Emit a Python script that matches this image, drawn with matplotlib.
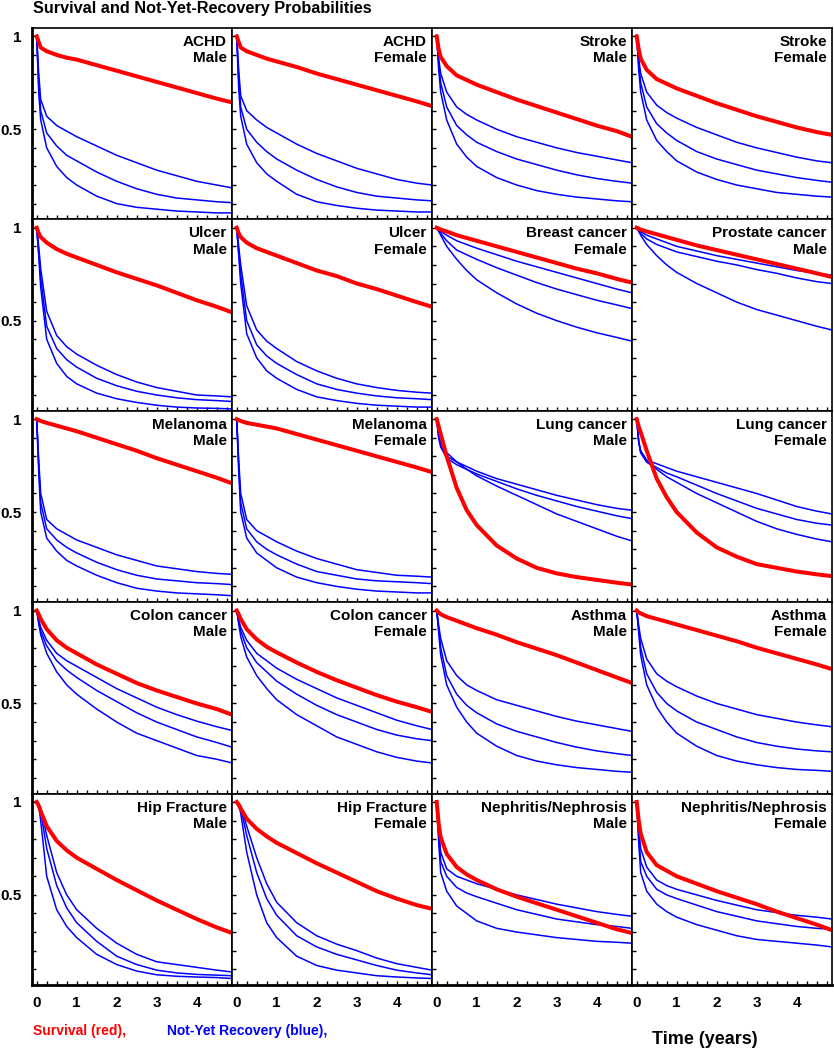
import numpy as np
import matplotlib.pyplot as plt

plt.rcParams['font.family'] = ['Liberation Sans', 'DejaVu Sans']

t = [0, 0.05, 0.1, 0.25, 0.5, 0.75, 1, 1.5, 2, 2.5, 3, 3.5, 4, 4.5, 4.88]

diseases = ["ACHD", "ACHD", "Stroke", "Stroke",
            "Ulcer", "Ulcer", "Breast cancer", "Prostate cancer",
            "Melanoma", "Melanoma", "Lung cancer", "Lung cancer",
            "Colon cancer", "Colon cancer", "Asthma", "Asthma",
            "Hip Fracture", "Hip Fracture", "Nephritis/Nephrosis", "Nephritis/Nephrosis"]
sexes = ["Male", "Female", "Male", "Female",
         "Male", "Female", "Female", "Male",
         "Male", "Female", "Male", "Female",
         "Male", "Female", "Male", "Female",
         "Male", "Female", "Male", "Female"]

# survival (red)
red = [
    [1, 0.97, 0.94, 0.92, 0.9, 0.885, 0.875, 0.845, 0.815, 0.785, 0.755, 0.725, 0.695, 0.665, 0.645],
    [1, 0.97, 0.94, 0.92, 0.9, 0.88, 0.865, 0.835, 0.8, 0.77, 0.74, 0.71, 0.68, 0.65, 0.625],
    [1, 0.93, 0.89, 0.84, 0.79, 0.765, 0.74, 0.7, 0.66, 0.625, 0.59, 0.555, 0.52, 0.49, 0.46],
    [1, 0.93, 0.88, 0.82, 0.77, 0.745, 0.72, 0.68, 0.64, 0.605, 0.57, 0.54, 0.51, 0.485, 0.47],
    [1, 0.97, 0.95, 0.92, 0.885, 0.86, 0.84, 0.8, 0.76, 0.725, 0.69, 0.65, 0.61, 0.575, 0.545],
    [1, 0.97, 0.95, 0.92, 0.89, 0.87, 0.85, 0.81, 0.77, 0.74, 0.7, 0.67, 0.635, 0.6, 0.575],
    [1, 0.995, 0.99, 0.98, 0.96, 0.945, 0.93, 0.9, 0.87, 0.84, 0.81, 0.78, 0.755, 0.725, 0.705],
    [1, 0.995, 0.99, 0.98, 0.965, 0.95, 0.935, 0.905, 0.88, 0.855, 0.83, 0.805, 0.78, 0.755, 0.735],
    [1, 0.995, 0.99, 0.98, 0.965, 0.95, 0.935, 0.9, 0.865, 0.83, 0.79, 0.755, 0.72, 0.685, 0.655],
    [1, 0.995, 0.99, 0.98, 0.97, 0.96, 0.95, 0.92, 0.89, 0.86, 0.83, 0.8, 0.77, 0.74, 0.715],
    [1, 0.96, 0.92, 0.8, 0.63, 0.51, 0.43, 0.32, 0.25, 0.2, 0.17, 0.15, 0.135, 0.12, 0.11],
    [1, 0.96, 0.93, 0.83, 0.68, 0.58, 0.5, 0.39, 0.31, 0.26, 0.22, 0.2, 0.18, 0.165, 0.155],
    [1, 0.98, 0.955, 0.9, 0.84, 0.8, 0.77, 0.71, 0.66, 0.61, 0.57, 0.535, 0.5, 0.47, 0.44],
    [1, 0.98, 0.955, 0.9, 0.845, 0.805, 0.775, 0.72, 0.67, 0.625, 0.585, 0.545, 0.51, 0.48, 0.455],
    [1, 0.99, 0.98, 0.965, 0.945, 0.925, 0.905, 0.87, 0.83, 0.795, 0.76, 0.72, 0.68, 0.64, 0.61],
    [1, 0.99, 0.985, 0.97, 0.955, 0.94, 0.925, 0.895, 0.865, 0.835, 0.8, 0.77, 0.74, 0.71, 0.685],
    [1, 0.98, 0.95, 0.87, 0.79, 0.74, 0.7, 0.64, 0.58, 0.525, 0.47, 0.42, 0.37, 0.325, 0.295],
    [1, 0.985, 0.965, 0.91, 0.855, 0.815, 0.78, 0.725, 0.67, 0.62, 0.57, 0.52, 0.48, 0.445, 0.425],
    [1, 0.88, 0.81, 0.72, 0.65, 0.61, 0.58, 0.53, 0.49, 0.455, 0.42, 0.385, 0.35, 0.315, 0.295],
    [1, 0.9, 0.83, 0.73, 0.66, 0.63, 0.6, 0.56, 0.52, 0.485, 0.45, 0.41, 0.375, 0.34, 0.31],
]

# not-yet-recovery (blue), three curves per panel
blue_hi = [
    [1, 0.8, 0.66, 0.57, 0.52, 0.49, 0.46, 0.41, 0.36, 0.32, 0.28, 0.25, 0.22, 0.2, 0.185],
    [1, 0.82, 0.68, 0.6, 0.55, 0.51, 0.48, 0.42, 0.37, 0.33, 0.29, 0.26, 0.23, 0.21, 0.2],
    [1, 0.88, 0.8, 0.7, 0.62, 0.58, 0.55, 0.5, 0.46, 0.43, 0.4, 0.375, 0.355, 0.335, 0.32],
    [1, 0.88, 0.8, 0.7, 0.63, 0.59, 0.56, 0.51, 0.47, 0.43, 0.4, 0.375, 0.35, 0.33, 0.32],
    [1, 0.9, 0.78, 0.55, 0.42, 0.36, 0.32, 0.26, 0.21, 0.17, 0.14, 0.12, 0.1, 0.095, 0.09],
    [1, 0.9, 0.8, 0.58, 0.45, 0.39, 0.35, 0.28, 0.23, 0.19, 0.16, 0.14, 0.125, 0.115, 0.11],
    [1, 0.99, 0.98, 0.96, 0.93, 0.91, 0.89, 0.855, 0.82, 0.79, 0.76, 0.73, 0.7, 0.67, 0.65],
    [1, 0.99, 0.98, 0.96, 0.94, 0.92, 0.9, 0.875, 0.85, 0.83, 0.81, 0.79, 0.77, 0.755, 0.745],
    [1, 0.78, 0.6, 0.46, 0.41, 0.38, 0.35, 0.31, 0.27, 0.24, 0.21, 0.195, 0.18, 0.17, 0.165],
    [1, 0.78, 0.6, 0.46, 0.4, 0.37, 0.34, 0.29, 0.25, 0.22, 0.19, 0.175, 0.16, 0.155, 0.15],
    [1, 0.9, 0.86, 0.8, 0.77, 0.745, 0.72, 0.68, 0.65, 0.62, 0.59, 0.565, 0.54, 0.52, 0.51],
    [1, 0.88, 0.83, 0.78, 0.76, 0.74, 0.72, 0.69, 0.66, 0.63, 0.6, 0.565, 0.53, 0.505, 0.49],
    [1, 0.95, 0.91, 0.84, 0.77, 0.73, 0.7, 0.64, 0.58, 0.53, 0.48, 0.44, 0.405, 0.375, 0.355],
    [1, 0.95, 0.91, 0.84, 0.77, 0.73, 0.69, 0.63, 0.58, 0.53, 0.49, 0.45, 0.41, 0.38, 0.36],
    [1, 0.92, 0.85, 0.73, 0.65, 0.6, 0.57, 0.52, 0.49, 0.46, 0.43, 0.405, 0.385, 0.365, 0.35],
    [1, 0.92, 0.85, 0.74, 0.66, 0.62, 0.59, 0.54, 0.5, 0.47, 0.44, 0.42, 0.4, 0.385, 0.375],
    [1, 0.99, 0.97, 0.82, 0.62, 0.5, 0.42, 0.32, 0.24, 0.18, 0.14, 0.125, 0.11, 0.095, 0.085],
    [1, 0.99, 0.98, 0.87, 0.7, 0.56, 0.46, 0.35, 0.28, 0.235, 0.2, 0.16, 0.13, 0.11, 0.095],
    [1, 0.85, 0.73, 0.64, 0.6, 0.58, 0.56, 0.53, 0.5, 0.475, 0.45, 0.43, 0.41, 0.395, 0.385],
    [1, 0.85, 0.75, 0.65, 0.58, 0.55, 0.53, 0.5, 0.47, 0.445, 0.42, 0.405, 0.39, 0.38, 0.37],
]
blue_mid = [
    [1, 0.75, 0.6, 0.48, 0.41, 0.36, 0.33, 0.27, 0.22, 0.18, 0.15, 0.13, 0.12, 0.11, 0.105],
    [1, 0.77, 0.62, 0.5, 0.43, 0.38, 0.34, 0.28, 0.23, 0.19, 0.16, 0.14, 0.13, 0.12, 0.115],
    [1, 0.85, 0.75, 0.62, 0.52, 0.47, 0.43, 0.38, 0.34, 0.31, 0.28, 0.255, 0.235, 0.22, 0.21],
    [1, 0.85, 0.75, 0.62, 0.53, 0.48, 0.44, 0.38, 0.34, 0.31, 0.28, 0.26, 0.24, 0.225, 0.215],
    [1, 0.87, 0.73, 0.47, 0.35, 0.29, 0.25, 0.19, 0.15, 0.12, 0.1, 0.085, 0.075, 0.07, 0.065],
    [1, 0.87, 0.75, 0.5, 0.37, 0.31, 0.27, 0.21, 0.16, 0.13, 0.11, 0.095, 0.085, 0.08, 0.075],
    [1, 0.985, 0.97, 0.93, 0.88, 0.855, 0.83, 0.785, 0.745, 0.705, 0.67, 0.64, 0.61, 0.585, 0.565],
    [1, 0.985, 0.97, 0.94, 0.91, 0.89, 0.87, 0.845, 0.82, 0.8, 0.775, 0.755, 0.73, 0.71, 0.7],
    [1, 0.75, 0.55, 0.41, 0.35, 0.31, 0.28, 0.23, 0.19, 0.16, 0.14, 0.13, 0.12, 0.115, 0.11],
    [1, 0.75, 0.55, 0.41, 0.34, 0.3, 0.27, 0.22, 0.18, 0.16, 0.14, 0.13, 0.125, 0.12, 0.115],
    [1, 0.9, 0.85, 0.79, 0.755, 0.73, 0.705, 0.665, 0.625, 0.59, 0.56, 0.53, 0.505, 0.48, 0.465],
    [1, 0.88, 0.82, 0.77, 0.74, 0.71, 0.69, 0.645, 0.6, 0.56, 0.52, 0.49, 0.46, 0.44, 0.43],
    [1, 0.94, 0.89, 0.81, 0.73, 0.68, 0.64, 0.57, 0.51, 0.45, 0.4, 0.36, 0.32, 0.29, 0.265],
    [1, 0.94, 0.89, 0.8, 0.72, 0.67, 0.62, 0.55, 0.49, 0.44, 0.4, 0.36, 0.33, 0.31, 0.3],
    [1, 0.9, 0.8, 0.65, 0.55, 0.49, 0.45, 0.39, 0.35, 0.32, 0.29, 0.265, 0.245, 0.23, 0.22],
    [1, 0.9, 0.8, 0.66, 0.56, 0.5, 0.46, 0.4, 0.36, 0.32, 0.29, 0.27, 0.255, 0.245, 0.24],
    [1, 0.99, 0.95, 0.75, 0.55, 0.43, 0.35, 0.25, 0.17, 0.125, 0.095, 0.08, 0.072, 0.068, 0.065],
    [1, 0.99, 0.97, 0.82, 0.62, 0.48, 0.39, 0.28, 0.22, 0.18, 0.15, 0.12, 0.095, 0.08, 0.07],
    [1, 0.82, 0.68, 0.6, 0.54, 0.51, 0.49, 0.455, 0.42, 0.395, 0.37, 0.355, 0.34, 0.33, 0.32],
    [1, 0.82, 0.68, 0.6, 0.53, 0.5, 0.48, 0.445, 0.41, 0.385, 0.36, 0.345, 0.33, 0.32, 0.315],
]
blue_lo = [
    [1, 0.7, 0.55, 0.4, 0.3, 0.24, 0.2, 0.14, 0.1, 0.08, 0.07, 0.06, 0.055, 0.05, 0.05],
    [1, 0.72, 0.57, 0.42, 0.32, 0.26, 0.22, 0.15, 0.11, 0.09, 0.075, 0.065, 0.06, 0.055, 0.055],
    [1, 0.82, 0.7, 0.55, 0.42, 0.35, 0.3, 0.24, 0.2, 0.17, 0.15, 0.135, 0.125, 0.115, 0.11],
    [1, 0.82, 0.7, 0.55, 0.44, 0.38, 0.33, 0.27, 0.23, 0.2, 0.18, 0.16, 0.15, 0.14, 0.135],
    [1, 0.85, 0.68, 0.4, 0.27, 0.2, 0.16, 0.11, 0.08, 0.06, 0.045, 0.035, 0.03, 0.028, 0.025],
    [1, 0.85, 0.7, 0.43, 0.3, 0.23, 0.19, 0.13, 0.09, 0.07, 0.055, 0.045, 0.04, 0.035, 0.035],
    [1, 0.98, 0.96, 0.9, 0.83, 0.77, 0.72, 0.65, 0.59, 0.54, 0.5, 0.465, 0.435, 0.41, 0.39],
    [1, 0.98, 0.96, 0.91, 0.85, 0.8, 0.76, 0.7, 0.65, 0.6, 0.56, 0.53, 0.5, 0.47, 0.45],
    [1, 0.72, 0.5, 0.36, 0.29, 0.24, 0.21, 0.16, 0.12, 0.09, 0.075, 0.065, 0.06, 0.055, 0.05],
    [1, 0.72, 0.5, 0.36, 0.28, 0.24, 0.2, 0.15, 0.12, 0.1, 0.085, 0.075, 0.07, 0.065, 0.065],
    [1, 0.92, 0.88, 0.82, 0.77, 0.73, 0.695, 0.64, 0.59, 0.54, 0.49, 0.45, 0.41, 0.37, 0.345],
    [1, 0.88, 0.82, 0.77, 0.73, 0.69, 0.66, 0.6, 0.55, 0.5, 0.45, 0.41, 0.38, 0.355, 0.34],
    [1, 0.93, 0.87, 0.77, 0.67, 0.6, 0.55, 0.47, 0.4, 0.34, 0.3, 0.26, 0.22, 0.2, 0.18],
    [1, 0.93, 0.86, 0.75, 0.65, 0.58, 0.52, 0.44, 0.38, 0.32, 0.28, 0.24, 0.21, 0.19, 0.18],
    [1, 0.88, 0.76, 0.6, 0.48, 0.4, 0.34, 0.27, 0.22, 0.19, 0.17, 0.155, 0.145, 0.135, 0.13],
    [1, 0.88, 0.76, 0.6, 0.48, 0.4, 0.34, 0.27, 0.22, 0.19, 0.17, 0.155, 0.145, 0.14, 0.135],
    [1, 0.98, 0.9, 0.6, 0.42, 0.33, 0.27, 0.18, 0.125, 0.09, 0.07, 0.062, 0.058, 0.055, 0.05],
    [1, 0.98, 0.94, 0.73, 0.5, 0.35, 0.27, 0.17, 0.12, 0.095, 0.08, 0.065, 0.058, 0.053, 0.05],
    [1, 0.78, 0.62, 0.52, 0.44, 0.4, 0.36, 0.32, 0.3, 0.285, 0.27, 0.26, 0.25, 0.245, 0.24],
    [1, 0.78, 0.62, 0.52, 0.45, 0.41, 0.38, 0.34, 0.31, 0.28, 0.26, 0.25, 0.24, 0.23, 0.22],
]

RED = '#ff0000'
BLUE = '#0000ff'

fig = plt.figure(figsize=(8.34, 10.5), dpi=100)
W, H = 834.0, 1050.0
x0, y0, pw, ph = 31.7, 28.0, 200.0, 191.4  # panel grid in pixels

for i in range(20):
    r, c = divmod(i, 4)
    ax = fig.add_axes([(x0 + c * pw) / W, 1 - (y0 + (r + 1) * ph) / H, pw / W, ph / H])

    for b in (blue_hi, blue_mid, blue_lo):
        ax.plot(t, b[i], color=BLUE, lw=1.1)
    ax.plot(t, red[i], color=RED, lw=2.9)

    ax.set_xlim(-0.125, 4.875)
    ax.set_ylim(0.015, 1.045)

    ax.set_xticks(range(5))
    ax.set_xticklabels([str(k) for k in range(5)])
    ax.set_xticks(np.arange(0, 4.8, 0.25), minor=True)
    ax.set_yticks([0.5, 1.0])
    ax.set_yticklabels(['0.5', '1'])
    ax.set_yticks(np.arange(0.1, 1.0, 0.1), minor=True)
    ax.tick_params(which='both', direction='in', length=3, width=1,
                   top=False, right=False, labelsize=11)
    ax.tick_params(axis='x', pad=8)
    ax.tick_params(axis='y', pad=7)
    for lab in ax.get_xticklabels() + ax.get_yticklabels():
        lab.set_fontweight('bold')
    if c != 0:
        ax.tick_params(labelleft=False)
    if r != 4:
        ax.tick_params(labelbottom=False)

    for s in ax.spines.values():
        s.set_linewidth(1.2)
    if c == 0:
        ax.spines['left'].set_linewidth(2)
    if r == 4:
        ax.spines['bottom'].set_linewidth(2)

    ax.text(1 - 5 / pw, 1 - 7 / ph, diseases[i] + "\n" + sexes[i],
            transform=ax.transAxes, ha='right', va='top', multialignment='right',
            fontsize=11, fontweight='bold', linespacing=1.2)

fig.text(33 / W, 1 - 9 / H, "Survival and Not-Yet-Recovery Probabilities",
         fontsize=11.7, fontweight='bold', ha='left', va='center')
fig.text(33 / W, 1 - 1031 / H, "Survival (red),", color=RED,
         fontsize=10, fontweight='bold', ha='left', va='center')
fig.text(166.7 / W, 1 - 1031 / H, "Not-Yet Recovery (blue),", color=BLUE,
         fontsize=10, fontweight='bold', ha='left', va='center')
fig.text(651.7 / W, 1 - 1040 / H, "Time (years)",
         fontsize=13, fontweight='bold', ha='left', va='center')

fig.savefig('out.png', dpi=100)
